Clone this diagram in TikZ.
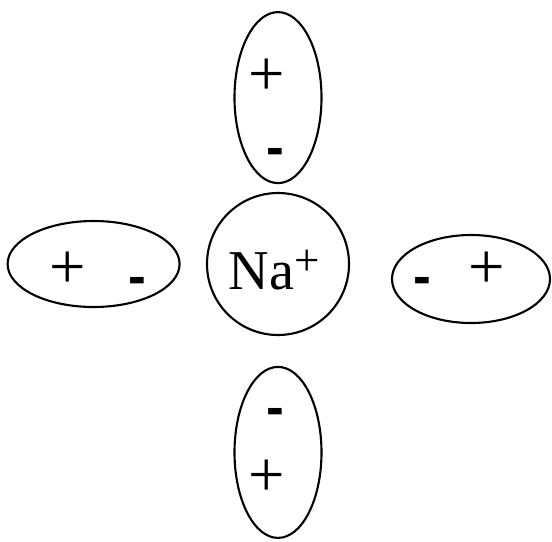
\documentclass[tikz,border=0pt]{standalone}
\usepackage{fontspec}
\setmainfont{Liberation Serif}
\setsansfont{Liberation Sans}
\usetikzlibrary{shapes.geometric, positioning}
\tikzset{
	ionnode/.style={
			circle,
			draw=black,
			line width=1.5pt,
			minimum size=3.55cm,
			inner sep=0pt
		},
	dipolenode/.style={
			ellipse,
			draw=black,
			line width=1.5pt,
			inner sep=0pt
		},
	upright/.style={
			dipolenode,
			minimum width=2.175cm,
			minimum height=4.275cm
		},
	sideways/.style={
			dipolenode,
			minimum width=4.3cm,
			minimum height=2.15cm
		},
	plusnode/.style={
			font=\fontsize{46}{46}\selectfont,
			inner sep=0pt
		},
	minusnode/.style={
			font=\fontsize{38}{38}\selectfont\sffamily\bfseries,
			text height=0.31em,
			text depth=-0.23em,
			inner sep=0pt,
			yshift=-0.375cm
		}
}

\begin{document}
\begin{tikzpicture}
    \useasboundingbox (-6.95,-6.925) rectangle (6.85,6.6);

    \node[ionnode] (ion) at (0,0) {};
    \node[font=\fontsize{40}{40}\selectfont, inner sep=0pt] (na) at (-0.1,-0.15)
        {Na\raisebox{10.5pt}{\fontsize{32}{32}\selectfont +}};

    \node[upright] (top) at (0,4.16) {};
    \node[upright] (bottom) at (0,-4.71) {};
    \node[sideways] (left) at (-4.61,0) {};
    \node[dipolenode, minimum width=3.95cm, minimum height=2.2cm] (right) at (4.825,-0.375) {};

    \node[plusnode] (tplus) at (-0.275,4.675) {+};
    \node[minusnode] (tminus) at (-0.075,2.9) {-};

    \node[minusnode] (bminus) at (-0.075,-3.6) {-};
    \node[plusnode] (bplus) at (-0.275,-5.35) {+};

    \node[plusnode] (lplus) at (-5.25,-0.15) {+};
    \node[minusnode] (lminus) at (-3.525,-0.325) {-};

    \node[minusnode] (rminus) at (3.6,-0.325) {-};
    \node[plusnode] (rplus) at (5.225,-0.15) {+};
\end{tikzpicture}
\end{document}
